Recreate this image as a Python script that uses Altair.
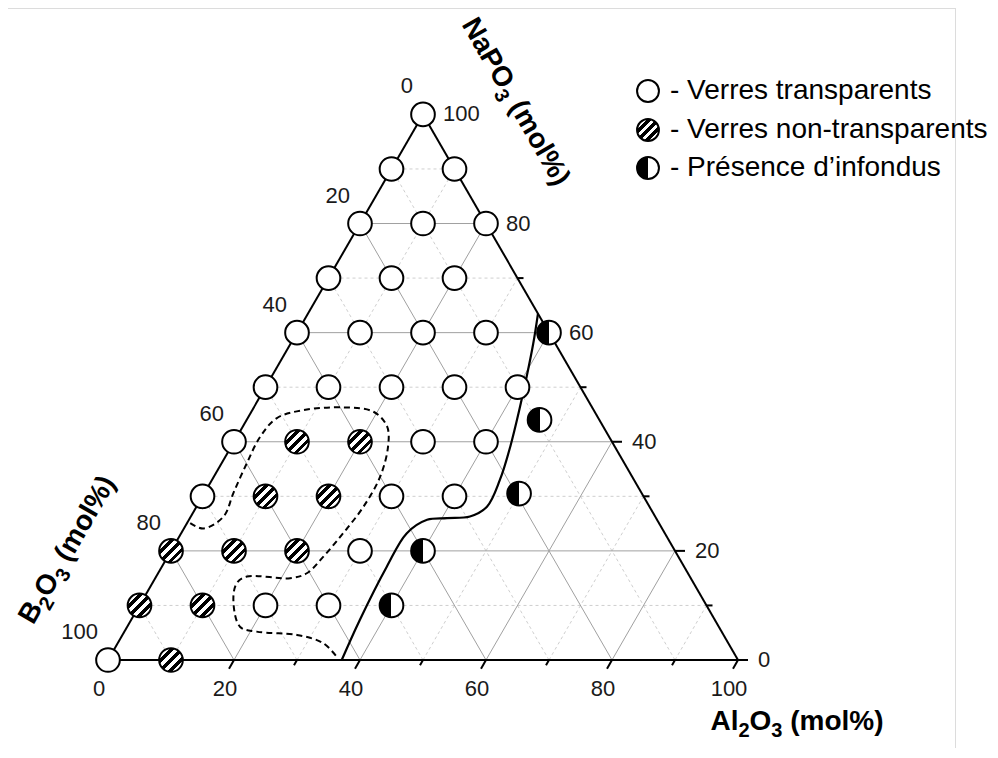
import altair as alt
import pandas as pd

# ---------------- data (ternary composition, mol%) ----------------
# open circles : verres transparents
open_al = [0, 0, 10, 0, 10, 20, 0, 10, 20, 0, 10, 20, 30, 0, 10, 20, 30, 40, 0, 30, 40, 0, 30, 40, 30, 20, 30, 0]
open_na = [100, 90, 90, 80, 80, 80, 70, 70, 70, 60, 60, 60, 60, 50, 50, 50, 50, 50, 40, 40, 40, 30, 30, 30, 20, 10, 10, 0]
# hatched circles : verres non-transparents
hatch_al = [10, 20, 10, 20, 0, 10, 20, 0, 10, 10]
hatch_na = [40, 40, 30, 30, 20, 20, 20, 10, 10, 0]
# half-filled circles : presence d'infondus
half_al = [40, 46.5, 50, 40, 40]
half_na = [60, 44, 30.5, 20, 10]

# dashed boundary (non-transparent domain)
dash_al = [0.5, 3.1, 5.2, 4.6, 4.0, 3.7, 4.6, 8.1, 14.2, 19.4, 22.9, 24.9, 26.4, 26.5, 25.7,
           24.7, 23.6, 21.4, 14.4, 13.4, 14.4, 17.9, 21.0, 27.7, 32.6, 36.0]
dash_na = [25.1, 24.1, 26.3, 30.6, 36.1, 40.9, 44.3, 45.8, 46.3, 45.5, 42.8, 39.1, 33.6, 28.1, 23.2,
           18.9, 15.9, 15.0, 15.3, 14.1, 11.0, 6.1, 5.2, 4.6, 3.1, 0.6]
# solid boundary (infondus)
solid_al = [37.1, 36.3, 35.7, 35.8, 37.8, 40.8, 44.3, 46.1, 45.7, 44.3, 42.2, 40.5, 38.5, 36.5]
solid_na = [0, 7.3, 17.1, 23.2, 25.7, 26.0, 26.3, 28.1, 33.0, 39.1, 46.4, 51.9, 58.0, 63.5]

grid_values = [10, 20, 30, 40, 50, 60, 70, 80, 90]
tick_values = [0, 10, 20, 30, 40, 50, 60, 70, 80, 90, 100]
label_values = [0, 20, 40, 60, 80, 100]

legend_labels = ["- Verres transparents", "- Verres non-transparents", "- Présence d\u2019infondus"]
# axis titles, split into (text, is_subscript) runs
title_na = [("NaPO", False), ("3", True), ("(mol%)", False)]
title_b = [("B", False), ("2", True), ("O", False), ("3", True), ("(mol%)", False)]
title_al = [("Al", False), ("2", True), ("O", False), ("3", True), ("(mol%)", False)]

# ---------------- geometry helpers ----------------
W, H = 980, 740
PX = 6.3  # pixels per composition unit
xmin = -100 / PX
xmax = xmin + W / PX
ymax = 652 / PX
ymin = ymax - H / PX
xs = alt.Scale(domain=[xmin, xmax], nice=False, zero=False)
ys = alt.Scale(domain=[ymin, ymax], nice=False, zero=False)

S3 = "0.8660254"
calc1 = dict(x="datum.a + datum.n/2", y=f"datum.n*{S3}")
calc2 = dict(x="datum.a + datum.n/2", y=f"datum.n*{S3}",
             x2="datum.a2 + datum.n2/2", y2=f"datum.n2*{S3}")


def seg_chart(df, **mk):
    return (alt.Chart(df).transform_calculate(**calc2).mark_rule(**mk).encode(
        x=alt.X("x:Q", scale=xs, axis=None), y=alt.Y("y:Q", scale=ys, axis=None),
        x2="x2:Q", y2="y2:Q"))


# grid lines
rows = []
for v in grid_values:
    kind = "major" if v % 20 == 0 else "minor"
    rows.append(dict(a=0, n=v, a2=100 - v, n2=v, kind=kind))          # NaPO3 const
    rows.append(dict(a=v, n=0, a2=v, n2=100 - v, kind=kind))          # Al2O3 const
    rows.append(dict(a=0, n=100 - v, a2=100 - v, n2=0, kind=kind))    # B2O3 const
grid = pd.DataFrame(rows)
grid_major = seg_chart(grid[grid.kind == "major"], color="#a0a0a0", strokeWidth=1)
grid_minor = seg_chart(grid[grid.kind == "minor"], color="#cfcfcf", strokeWidth=1, strokeDash=[3, 3])

# triangle edges
edges = pd.DataFrame(dict(a=[0, 100, 0], n=[0, 0, 100], a2=[100, 0, 0], n2=[0, 100, 0]))
edge_chart = seg_chart(edges, color="black", strokeWidth=2)

# ticks
trows = []
for v in tick_values:
    L = (10 if v % 20 == 0 else 6) / PX
    trows.append(dict(a=v, n=0, a2=v, n2=-L))                  # bottom, down-left
    trows.append(dict(a=100 - v, n=v, a2=100 - v + L, n2=v))   # right, horizontal
    trows.append(dict(a=0, n=100 - v, a2=-L, n2=100 - v + L))  # left, up-left
tick_chart = seg_chart(pd.DataFrame(trows), color="black", strokeWidth=2)

# tick labels
lab_font = dict(font="Liberation Sans", fontSize=22, color="#1a1a1a")


def label_chart(df, **mk):
    return (alt.Chart(df).transform_calculate(**calc1).mark_text(**lab_font, **mk).encode(
        x=alt.X("x:Q", scale=xs, axis=None), y=alt.Y("y:Q", scale=ys, axis=None),
        text="lab:N"))


bot = pd.DataFrame(dict(a=label_values, n=[0] * 6, lab=[str(v) for v in label_values]))
right = pd.DataFrame(dict(a=[100 - v for v in label_values], n=label_values,
                          lab=[str(v) for v in label_values]))
left = pd.DataFrame(dict(a=[0] * 6, n=[100 - v for v in label_values],
                         lab=[str(v) for v in label_values]))
bot_lab = label_chart(bot, align="center", baseline="middle", dx=-9, dy=29)
right_lab = label_chart(right, align="left", baseline="middle", dx=20, dy=0)
left_lab = label_chart(left, align="right", baseline="middle", dx=-10, dy=-28)


def curve_chart(al, na, **mk):
    df = pd.DataFrame(dict(a=al, n=na, i=range(len(al))))
    return (alt.Chart(df).transform_calculate(**calc1).mark_line(**mk).encode(
        x=alt.X("x:Q", scale=xs, axis=None), y=alt.Y("y:Q", scale=ys, axis=None),
        order="i:Q"))


dash_curve = curve_chart(dash_al, dash_na, color="black", strokeWidth=2,
                         strokeDash=[6, 4], interpolate="catmull-rom")
solid_curve = curve_chart(solid_al, solid_na, color="black", strokeWidth=2.2,
                          interpolate="catmull-rom")

# fills
stripe = [(0, "white"), (0.245, "white"), (0.245, "black"), (0.345, "black"), (0.345, "white"),
          (0.45, "white"), (0.45, "black"), (0.55, "black"), (0.55, "white"),
          (0.655, "white"), (0.655, "black"), (0.755, "black"), (0.755, "white"), (1, "white")]
hatch_fill = alt.Gradient(gradient="linear", x1=0, y1=0, x2=1, y2=1,
                          stops=[alt.GradientStop(offset=o, color=c) for o, c in stripe])
half_fill = alt.Gradient(gradient="linear", x1=0, y1=0, x2=1, y2=0,
                         stops=[alt.GradientStop(offset=o, color=c) for o, c in
                                [(0, "black"), (0.5, "black"), (0.5, "white"), (1, "white")]])
SIZE = 560


def pts_chart(al, na, fill):
    df = pd.DataFrame(dict(a=al, n=na))
    return (alt.Chart(df).transform_calculate(**calc1).mark_point(
        shape="circle", size=SIZE, filled=False, fill=fill, fillOpacity=1, stroke="black",
        strokeWidth=2, opacity=1).encode(
        x=alt.X("x:Q", scale=xs, axis=None), y=alt.Y("y:Q", scale=ys, axis=None)))


open_pts = pts_chart(open_al, open_na, "white")
hatch_pts = pts_chart(hatch_al, hatch_na, hatch_fill)
half_pts = pts_chart(half_al, half_na, half_fill)

# legend
legend_layers = []
leg_y = [83, 122, 160]
for lab, yy, fill in zip(legend_labels, leg_y, ["white", hatch_fill, half_fill]):
    d = pd.DataFrame(dict(t=[lab]))
    legend_layers.append(alt.Chart(d).mark_point(
        shape="circle", size=480, filled=False, fill=fill, fillOpacity=1, stroke="black",
        strokeWidth=2, opacity=1).encode(x=alt.value(640), y=alt.value(yy)))
    legend_layers.append(alt.Chart(d).mark_text(
        font="Liberation Sans", fontSize=28, align="left", baseline="middle", color="black").encode(
        x=alt.value(662), y=alt.value(yy), text="t:N"))

# axis titles built from runs (normal + subscript), offsets in the rotated text frame
BIG, SUB = 28, 20
ADV = {"A": 722, "l": 278, "O": 778, "N": 722, "a": 556, "P": 667, "B": 722, "(": 333,
       "m": 889, "o": 611, "%": 889, ")": 333, "2": 556, "3": 556}
SPACE = 278 * BIG / 1000


def run_width(txt, sub):
    return sum(ADV.get(c, 600) for c in txt) * (SUB if sub else BIG) / 1000


def title_layers(runs, cx, cy, angle):
    widths = []
    for i, (txt, sub) in enumerate(runs):
        w = run_width(txt, sub)
        if txt.startswith("("):
            w += SPACE
        widths.append(w)
    total = sum(widths)
    off = -total / 2
    out = []
    for (txt, sub), w in zip(runs, widths):
        start = off + (SPACE if txt.startswith("(") else 0)
        mk = dict(font="Liberation Sans", fontSize=SUB if sub else BIG, fontWeight="bold",
                  color="black", align="left", baseline="alphabetic",
                  dx=start, dy=10 + (7 if sub else 0))
        if angle:
            mk["angle"] = angle
        out.append(alt.Chart(pd.DataFrame(dict(t=[txt]))).mark_text(**mk).encode(
            x=alt.value(cx), y=alt.value(cy), text="t:N"))
        off += w
    return out


titles = (title_layers(title_na, 509, 93, 60)
          + title_layers(title_b, 58, 541, 300)
          + title_layers(title_al, 789, 712, 0))

# frame lines of the original picture
frame_top = alt.Chart(pd.DataFrame(dict(t=[0]))).mark_rule(color="#dcdcdc", strokeWidth=1).encode(
    x=alt.value(0), x2=alt.value(947), y=alt.value(0.5))
frame_right = alt.Chart(pd.DataFrame(dict(t=[0]))).mark_rule(color="#dcdcdc", strokeWidth=1).encode(
    x=alt.value(947.5), y=alt.value(0), y2=alt.value(H))

chart = alt.layer(
    frame_top, frame_right,
    grid_minor, grid_major, edge_chart, tick_chart,
    dash_curve, solid_curve,
    open_pts, hatch_pts, half_pts,
    bot_lab, right_lab, left_lab,
    *titles,
    *legend_layers,
).properties(
    width=W, height=H, padding=0, autosize=alt.AutoSizeParams(type="none")
).configure_view(strokeWidth=0)

chart.save("out.html", embed_options={"renderer": "svg", "actions": False})
